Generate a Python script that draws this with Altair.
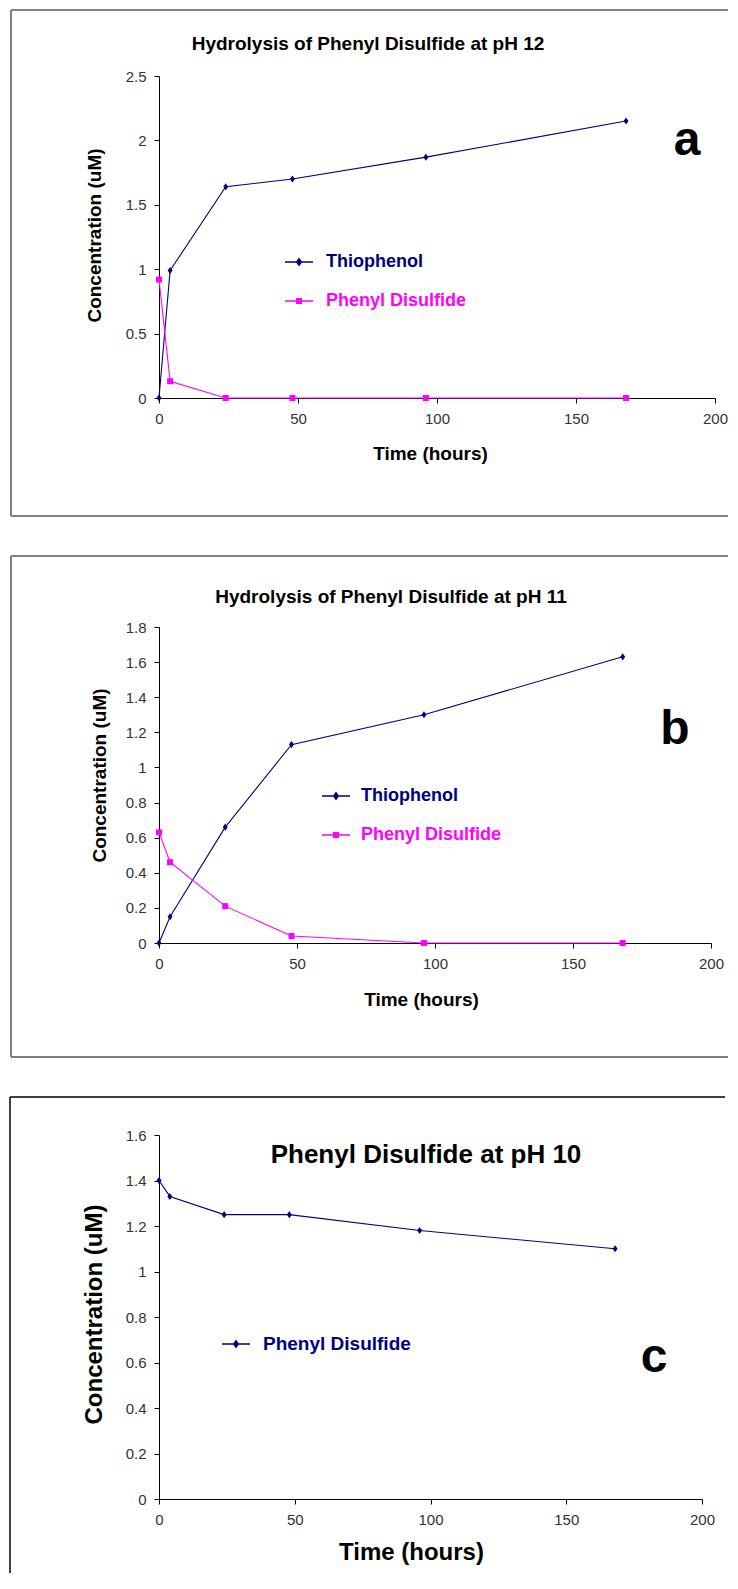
import altair as alt
import pandas as pd

# ---------------- data ----------------
time_h = [0, 4, 24, 48, 96, 168]

a_thiophenol = [0.0, 0.99, 1.64, 1.70, 1.87, 2.15]
a_disulfide = [0.92, 0.13, 0.0, 0.0, 0.0, 0.0]

b_thiophenol = [0.0, 0.15, 0.66, 1.13, 1.30, 1.63]
b_disulfide = [0.63, 0.46, 0.21, 0.04, 0.0, 0.0]

c_disulfide = [1.40, 1.33, 1.25, 1.25, 1.18, 1.10]

x_ticks = [0, 50, 100, 150, 200]
a_y_ticks = [0, 0.5, 1, 1.5, 2, 2.5]
b_y_ticks = [0, 0.2, 0.4, 0.6, 0.8, 1, 1.2, 1.4, 1.6, 1.8]
c_y_ticks = [0, 0.2, 0.4, 0.6, 0.8, 1, 1.2, 1.4, 1.6]

series_names = ["Thiophenol", "Phenyl Disulfide"]
titles = ["Hydrolysis of Phenyl Disulfide at pH 12",
          "Hydrolysis of Phenyl Disulfide at pH 11",
          "Phenyl Disulfide at pH 10"]
letters = ["a", "b", "c"]

# ---------------- styling ----------------
FONT = "Liberation Sans, Arial, sans-serif"
NAVY = "#000080"
MAGENTA = "#FF00FF"
DIAMOND = "M0,-1L0.7,0L0,1L-0.7,0Z"
SQUARE = "M-0.85,-0.85L0.85,-0.85L0.85,0.85L-0.85,0.85Z"
LEG_DIAMOND = "M-1,0L1,0M0,-0.24L0.17,0L0,0.24L-0.17,0Z"
LEG_SQUARE = "M-1,0L1,0M-0.17,-0.17L0.17,-0.17L0.17,0.17L-0.17,0.17Z"

one = pd.DataFrame({"k": [0]})


def long_df(series):
    rows = []
    for name, vals in series:
        for t, v in zip(time_h, vals):
            rows.append({"time": t, "conc": v, "series": name})
    return pd.DataFrame(rows)


def panel(df, names, colors, markers, leg_markers, y_ticks, W, H, frame, frame_color,
          frame_w, title, title_pos, title_size, letter, letter_pos, ytitle, xtitle,
          axis_title_size, legend_pos, legend_row_pad, legend_label_offset, legend_font,
          bottom_rule=True):
    ymax = y_ticks[-1]
    x_enc = alt.X("time:Q",
                  scale=alt.Scale(domain=[0, 200], nice=False),
                  axis=alt.Axis(values=x_ticks, format="d", title="Time (hours)", grid=False,
                                labelFlush=False,
                                domainColor="black", domainWidth=1, tickColor="black",
                                tickSize=5, labelFont=FONT, labelFontSize=15,
                                labelColor="#333333", labelPadding=8,
                                titleFont=FONT, titleFontSize=axis_title_size,
                                titleFontWeight="bold", titleColor="black",
                                titleX=xtitle[0], titleY=xtitle[1],
                                titleBaseline="middle", titleAlign="center"))
    y_enc = alt.Y("conc:Q",
                  scale=alt.Scale(domain=[0, ymax], nice=False),
                  axis=alt.Axis(values=y_ticks, format="~r", title="Concentration (uM)",
                                grid=False, domainColor="black", domainWidth=1,
                                tickColor="black", tickSize=5, labelFont=FONT,
                                labelFontSize=15, labelColor="#333333", labelPadding=8,
                                titleFont=FONT, titleFontSize=axis_title_size,
                                titleFontWeight="bold", titleColor="black",
                                titleX=ytitle[0], titleY=ytitle[1],
                                titleBaseline="middle", titleAlign="center"))
    cscale = alt.Scale(domain=names, range=colors)

    fl, ft, fb, fr = frame
    rules = [
        alt.Chart(one).mark_rule(color=frame_color, strokeWidth=frame_w).encode(
            x=alt.value(fl), x2=alt.value(fl), y=alt.value(ft), y2=alt.value(fb)),
        alt.Chart(one).mark_rule(color=frame_color, strokeWidth=frame_w).encode(
            x=alt.value(fl), x2=alt.value(fr), y=alt.value(ft), y2=alt.value(ft)),
    ]
    if bottom_rule:
        rules.append(alt.Chart(one).mark_rule(color=frame_color, strokeWidth=frame_w).encode(
            x=alt.value(fl), x2=alt.value(fr), y=alt.value(fb), y2=alt.value(fb)))

    lines = alt.Chart(df).mark_line(strokeWidth=1.1).encode(
        x=x_enc, y=y_enc,
        color=alt.Color("series:N", scale=cscale, legend=None),
    )
    points = alt.Chart(df).mark_point(filled=True, size=50, opacity=1, strokeWidth=0).encode(
        x=x_enc, y=y_enc,
        color=alt.Color("series:N", scale=cscale, legend=None),
        shape=alt.Shape("series:N", scale=alt.Scale(domain=names, range=markers), legend=None),
    )
    if len(names) > 1:
        lab_color = {"expr": "datum.value == '%s' ? '%s' : '%s'" % (names[0], colors[0], colors[1])}
    else:
        lab_color = colors[0]
    legend_layer = alt.Chart(df).mark_point(filled=True, size=0, opacity=1, strokeWidth=1.3).encode(
        x=x_enc, y=y_enc,
        color=alt.Color("series:N", scale=alt.Scale(domain=names, range=colors),
                        legend=alt.Legend(orient="none", legendX=legend_pos[0],
                                          legendY=legend_pos[1], title=None,
                                          symbolSize=784, symbolStrokeWidth=1.3,
                                          labelFont=FONT, labelFontSize=legend_font,
                                          labelFontWeight="bold", labelColor=lab_color,
                                          labelOffset=legend_label_offset,
                                          rowPadding=legend_row_pad, padding=0)),
        stroke=alt.Stroke("series:N", scale=alt.Scale(domain=names, range=colors)),
        shape=alt.Shape("series:N", scale=alt.Scale(domain=names, range=leg_markers)),
    )
    title_mark = alt.Chart(one).mark_text(text=title, font=FONT, fontSize=title_size,
                                          fontWeight="bold", color="black",
                                          align="center", baseline="middle").encode(
        x=alt.value(title_pos[0]), y=alt.value(title_pos[1]))
    letter_mark = alt.Chart(one).mark_text(text=letter, font=FONT, fontSize=48,
                                           fontWeight="bold", color="black",
                                           align="center", baseline="alphabetic").encode(
        x=alt.value(letter_pos[0]), y=alt.value(letter_pos[1]))

    layers = rules + [lines, points, legend_layer, title_mark, letter_mark]
    return alt.layer(*layers).resolve_scale(
        color="independent", shape="independent", stroke="independent").properties(
        width=W, height=H)


df_a = long_df([("Thiophenol", a_thiophenol), ("Phenyl Disulfide", a_disulfide)])
df_b = long_df([("Thiophenol", b_thiophenol), ("Phenyl Disulfide", b_disulfide)])
df_c = long_df([("Phenyl Disulfide", c_disulfide)])

pa = panel(df_a, series_names, [NAVY, MAGENTA], [DIAMOND, SQUARE], [LEG_DIAMOND, LEG_SQUARE],
           a_y_ticks, 556, 322, (-148, -66, 440, 569), "#808080", 2,
           titles[0], (209, -32), 19, letters[0], (528, 79),
           (-65, 159), (271, 55), 19, (125, 171), 15, 12, 18)
pb = panel(df_b, series_names, [NAVY, MAGENTA], [DIAMOND, SQUARE], [LEG_DIAMOND, LEG_SQUARE],
           b_y_ticks, 552, 316, (-148, -71, 430, 569), "#808080", 2,
           titles[1], (232, -30), 19, letters[1], (516, 117),
           (-60, 148), (262, 56), 19, (162, 154), 15, 10, 18)
pc = panel(df_c, ["Phenyl Disulfide"], [NAVY], [DIAMOND], [LEG_DIAMOND],
           c_y_ticks, 543, 364, (-149, -38, 438, 566), "black", 1.5,
           titles[2], (267, 20), 26, letters[2], (495, 237),
           (-65, 179), (252, 53), 24, (62, 194), 10, 12, 19, bottom_rule=False)

chart = alt.vconcat(pa, pb, pc, spacing=38).properties(
    padding={"left": 1, "top": 1, "right": 0, "bottom": 0},
    background="white",
).configure_view(strokeWidth=0)

chart.save("out.html", embed_options={"renderer": "svg", "actions": False})
